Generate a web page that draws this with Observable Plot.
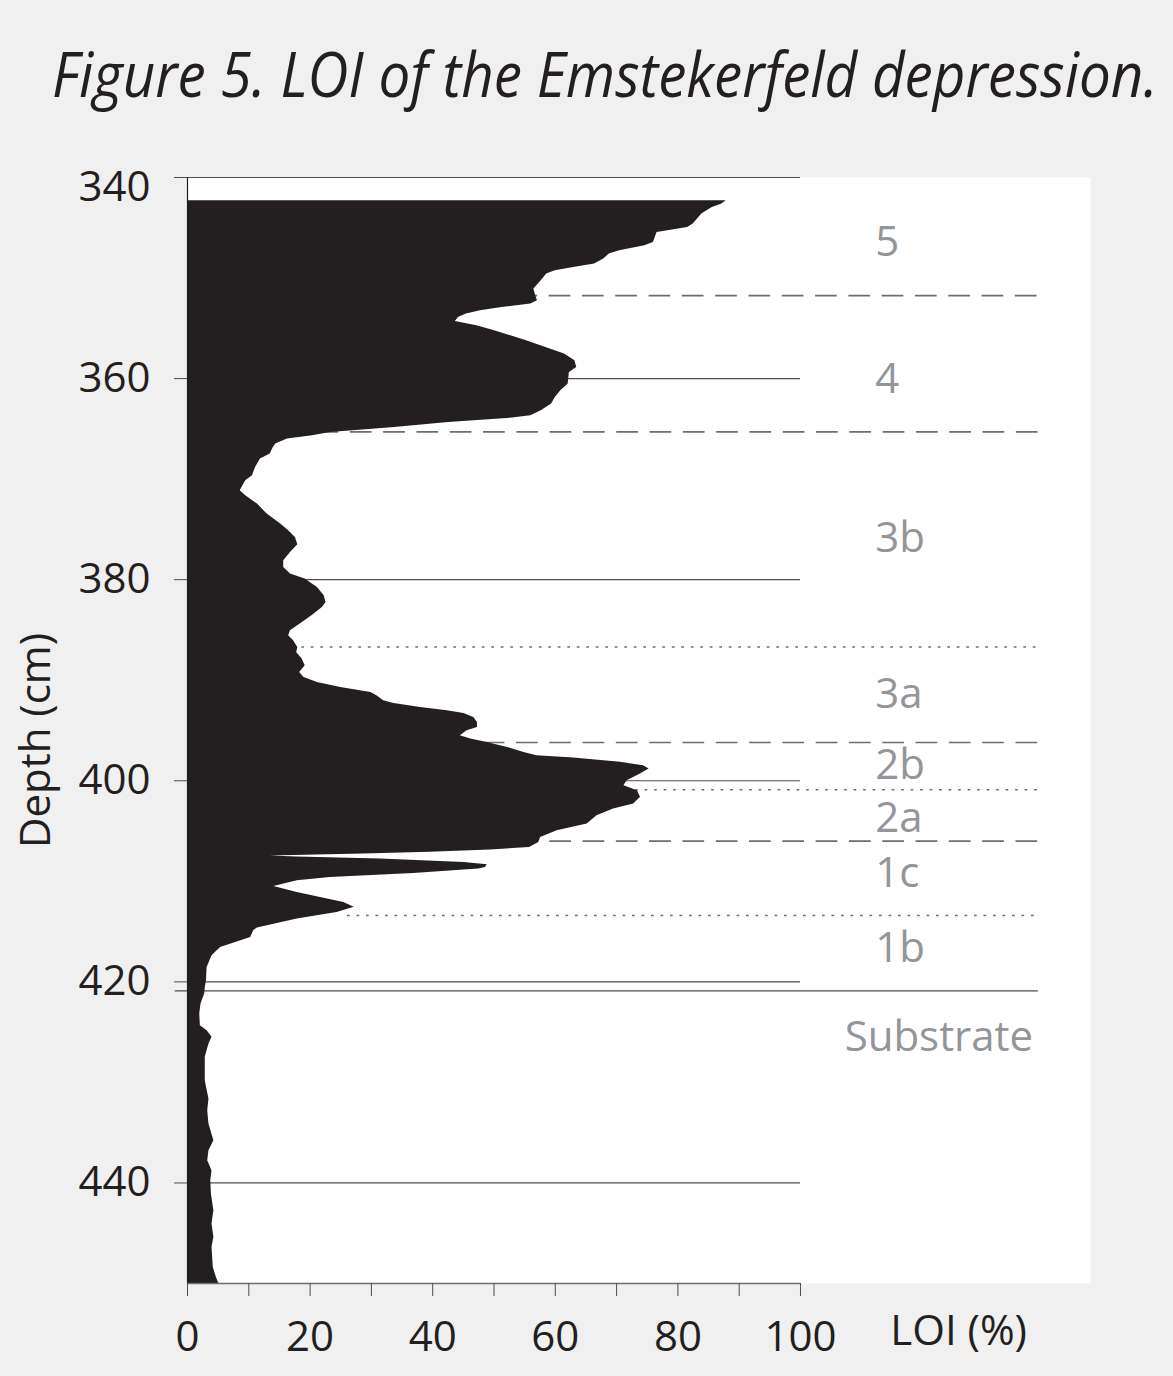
<!DOCTYPE html>
<html><head><meta charset="utf-8">
<script src="https://cdn.jsdelivr.net/npm/d3@7"></script>
<script src="https://cdn.jsdelivr.net/npm/@observablehq/plot@0.6"></script>
<style>
html,body{margin:0;padding:0;background:#f0f0f0;}
svg{display:block;}
</style></head><body>
<svg id="title" width="1173" height="130"><text id="titleText" x="0" y="0" transform="translate(52,97)" font-family="Open Sans" font-style="italic" font-size="62" fill="#231f20">Figure 5. LOI of the Emstekerfeld depression.</text></svg>
<div id="chart"></div>
<script>
// Depth (cm) and LOI (%) profile
const depth = [342.3,342.65,342.98,343.64,344.63,344.97,345.47,345.97,346.46,346.79,347.29,347.62,348.11,348.61,348.95,349.28,349.61,350.27,351.10,351.76,352.26,352.59,352.93,353.26,353.58,353.92,354.32,354.75,355.24,356.24,357.56,358.23,358.89,359.39,360.54,361.21,361.88,362.53,363.20,363.70,363.93,364.36,364.86,365.36,365.69,366.01,366.51,366.85,367.51,368.00,368.84,369.66,370.16,371.16,371.65,372.48,373.47,374.47,375.13,375.80,376.53,377.29,378.12,378.78,379.44,379.94,380.77,381.60,382.26,382.76,383.59,384.41,385.08,385.58,386.07,386.74,387.24,387.89,388.56,389.22,389.72,390.22,390.72,391.21,391.54,392.04,392.31,392.70,393.03,393.30,393.70,394.20,394.69,395.02,395.52,395.85,396.19,396.68,397.18,397.51,397.74,398.17,398.50,398.83,399.33,399.99,400.49,400.99,401.65,402.31,402.81,403.47,404.30,404.97,405.63,406.13,406.63,406.89,407.12,407.28,407.48,407.58,407.78,408.12,408.35,408.62,408.77,409.21,409.61,409.94,410.51,411.10,411.60,412.10,412.59,413.09,413.75,414.64,414.91,415.58,416.57,417.40,418.56,419.88,420.55,421.21,422.20,423.19,424.36,424.85,425.52,426.18,427.51,429.83,430.49,431.65,432.81,434.13,435.80,436.79,437.78,438.78,439.77,441.09,442.76,444.08,445.41,446.40,448.39,449.39,450.0];
const loi = [87.9,87.1,85.6,83.9,82.5,81.6,76.6,76.3,76.0,74.6,70.5,68.8,67.9,66.4,63.0,60.0,58.6,57.7,56.5,56.8,57.1,56.0,51.3,47.8,45.5,44.2,43.7,47.2,50.1,55.3,61.5,63.2,63.5,62.3,62.1,60.9,60.0,59.4,57.7,56.0,53.0,42.6,33.8,23.3,20.4,16.3,14.4,14.0,13.5,11.9,11.1,10.6,9.5,8.6,9.5,11.4,13.0,15.2,16.5,17.6,18.0,16.8,15.7,15.7,16.8,19.2,21.2,22.3,22.6,22.0,20.3,18.4,16.8,16.5,17.3,18.0,17.8,18.7,19.2,18.3,19.0,21.2,25.0,29.9,30.9,32.0,33.7,38.0,42.4,45.1,46.7,47.3,47.3,45.6,44.5,46.2,48.9,52.2,54.9,57.0,63.0,70.6,74.4,75.3,73.9,71.7,71.2,73.4,73.9,72.8,69.5,66.8,65.2,60.3,57.6,57.3,55.8,49.4,39.6,28.7,13.5,17.9,31.5,45.1,48.9,48.6,47.5,36.9,23.3,17.9,14.1,17.9,21.7,25.5,27.2,24.4,17.9,11.4,10.8,10.3,5.4,4.0,3.2,3.1,2.9,2.8,2.2,2.0,2.1,3.2,4.0,3.5,2.9,2.9,3.1,3.5,3.3,3.5,4.3,3.5,3.3,4.0,3.8,3.9,4.3,4.0,4.3,4.0,4.2,4.7,5.1];

// Axis ticks
const yTicks = [340,360,380,400,420,440];
const xTicks = [0,10,20,30,40,50,60,70,80,90,100];

// Zone boundaries
const boundaryDepth = [351.75,365.3,386.7,396.2,400.9,406.0,413.4,420.9];
const boundaryType  = ["dashed","dashed","dotted","dashed","dotted","dashed","dotted","solid"];
const boundaryStart = [42.7,15.7,7.8,42.8,63.8,42.8,26.1,-2];

// Zone labels
const zoneLabels = ["5","4","3b","3a","2b","2a","1c","1b","Substrate"];
const zoneDepth  = [346.5,360.1,375.9,391.4,398.5,403.8,409.2,416.7,425.5];

// Title: condense to the reference width
const tt = document.getElementById("titleText");
const natural = tt.getComputedTextLength();
tt.setAttribute("transform", `translate(52,97) scale(${1106 / natural},1)`);

const data = depth.map((d,i)=>({depth:d, loi:loi[i]}));
const bounds = boundaryDepth.map((d,i)=>({depth:d, type:boundaryType[i], start:boundaryStart[i]}));
const zones = zoneLabels.map((l,i)=>({label:l, depth:zoneDepth[i]}));
const lineEnd = 138.8;

const chart = Plot.plot({
  width:1173, height:1246,
  marginTop:47, marginBottom:93, marginLeft:187, marginRight:83,
  x:{domain:[0,147.31]},
  y:{domain:[340,450], reverse:true},
  style:{background:"transparent", fontFamily:"'Open Sans', sans-serif", fontSize:"42px", color:"#231f20", overflow:"visible"},
  marks:[
    Plot.frame({fill:"white", stroke:null}),
    Plot.ruleY(yTicks, {x1:0, x2:100, stroke:"#4d4d4f", strokeWidth:1.2}),
    Plot.ruleY(bounds.filter(b=>b.type==="dashed"), {y:"depth", x1:"start", x2:lineEnd, stroke:"#6d6e71", strokeWidth:1.6, strokeDasharray:"21.7,11.6"}),
    Plot.ruleY(bounds.filter(b=>b.type==="dotted"), {y:"depth", x1:"start", x2:lineEnd, stroke:"#6d6e71", strokeWidth:1.6, strokeDasharray:"2.7,6.8"}),
    Plot.ruleY(bounds.filter(b=>b.type==="solid"), {y:"depth", x1:"start", x2:lineEnd, stroke:"#4d4d4f", strokeWidth:1.4}),
    Plot.areaX(data, {y:"depth", x:"loi", fill:"#231f20"}),
    Plot.ruleX([0], {y1:340, y2:450, stroke:"#231f20", strokeWidth:1.2}),
    Plot.ruleY([450], {x1:0, x2:100, stroke:"#6d6e71", strokeWidth:1.5}),
    Plot.axisY({ticks:yTicks, tickSize:13, tickPadding:24, stroke:"#4d4d4f", tickFormat:d=>d===340?"":String(d), label:null}),
    Plot.axisY({ticks:[340], tickSize:0, tickPadding:37, dy:10, tickFormat:d=>String(d), label:null}),
    Plot.axisX({ticks:xTicks, tickSize:13, tickPadding:25, stroke:"#4d4d4f", tickFormat:d=>d%20===0?String(d):"", label:null}),
    Plot.text(["LOI (%)"], {x:125.8, frameAnchor:"bottom", lineAnchor:"middle", dy:48, text:d=>d, fill:"#231f20"}),
    Plot.text(["Depth (cm)"], {frameAnchor:"left", textAnchor:"middle", lineAnchor:"middle", rotate:-90, dx:-151, dy:10, text:d=>d, fill:"#231f20"}),
    Plot.text(zones, {x:d=>d.label==="Substrate"?107.2:112.2, y:"depth", text:"label", textAnchor:"start", fill:"#939598", fontSize:42})
  ]
});
document.getElementById("chart").appendChild(chart);
</script>
</body></html>
